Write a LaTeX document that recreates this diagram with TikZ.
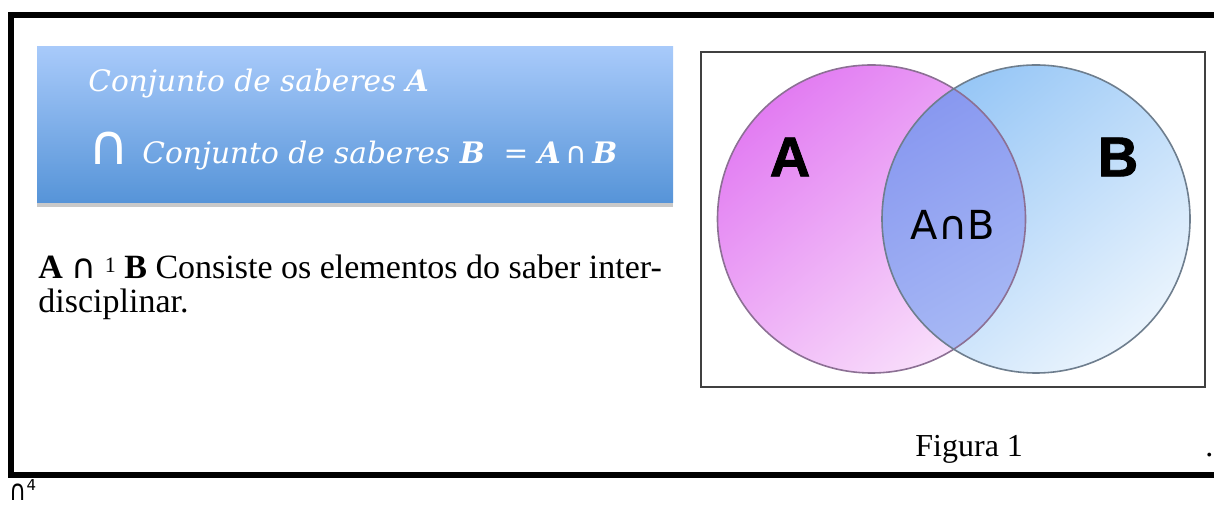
\documentclass[tikz,border=0pt]{standalone}
\usepackage{fontspec}
\setmainfont{Liberation Serif}
\newfontfamily\boxfont{DejaVu Serif}
\newfontfamily\vennfont{Liberation Sans}[BoldFeatures={FakeBold=1.5}]
\newfontfamily\symfont{DejaVu Sans}
\usetikzlibrary{shadows}

\definecolor{boxtop}{RGB}{168,202,250}
\definecolor{boxbottom}{RGB}{86,148,216}
\definecolor{setAdark}{RGB}{226,124,242}
\definecolor{setAlight}{RGB}{249,224,251}
\definecolor{setBdark}{RGB}{150,198,246}
\definecolor{setBlight}{RGB}{234,244,253}
\definecolor{capdark}{RGB}{136,152,240}
\definecolor{caplight}{RGB}{178,196,246}
\definecolor{edgeA}{RGB}{140,112,148}
\definecolor{edgeB}{RGB}{110,126,142}

\begin{document}
\begin{tikzpicture}[x=0.5pt,y=-0.5pt,
    titlebox/.style={draw=none,top color=boxtop,bottom color=boxbottom,
      drop shadow={shadow xshift=0pt,shadow yshift=-2pt,opacity=0.3,fill=black!70},
      minimum width=318pt,minimum height=78pt,inner sep=0pt},
    boxtext/.style={anchor=base west,inner sep=0pt,white,
      font=\boxfont\itshape\fontsize{14.8}{14.8}\selectfont},
    bodytext/.style={anchor=base west,inner sep=0pt,font=\fontsize{17}{17}\selectfont},
    setlabel/.style={inner sep=0pt,font=\vennfont\bfseries\fontsize{28}{28}\selectfont}]
  \useasboundingbox (0,0) rectangle (1214,506);

  % outer frame, open at the right side
  \draw[line width=3pt] (1230,15.5) -- (11,15.5) -- (11,475) -- (1230,475);

  % blue title box with the formula
  \node (title) [titlebox] at (355,125) {};
  \node (lineA) [boxtext] at (88,92) {Conjunto de saberes \textbf{A}};
  \node (bigcap) [anchor=base west,inner sep=0pt,white,
    font=\symfont\fontsize{28}{28}\selectfont] at (88,165) {∩};
  \node (lineB) [boxtext] at (142,164)
    {Conjunto de saberes \textbf{B}\ \ \textup{=}\ \textbf{A}\,{\upshape\symfont ∩}\,\textbf{B}};

  % explanation below the box
  \node (expl1) [bodytext] at (38,279)
    {\textbf{A} {\symfont ∩} \raisebox{3pt}{\fontsize{11}{11}\selectfont 1} \textbf{B} Consiste os elementos do saber inter-};
  \node (expl2) [bodytext] at (38,313) {disciplinar.};

  % Venn diagram
  \draw[line width=1pt,black!75] (701,52) rectangle (1205,387);
  \coordinate (cA) at (871.5,219);
  \coordinate (cB) at (1036,219);
  \fill[top color=setAdark,bottom color=setAlight,shading angle=40] (cA) circle[radius=154];
  \fill[top color=setBdark,bottom color=setBlight,shading angle=40] (cB) circle[radius=154];
  \begin{scope}
    \clip (cA) circle[radius=154];
    \fill[top color=capdark,bottom color=caplight,shading angle=30] (cB) circle[radius=154];
  \end{scope}
  \draw[line width=0.8pt,edgeA] (cA) circle[radius=154];
  \draw[line width=0.8pt,edgeB] (cB) circle[radius=154];
  \node (labA) [setlabel] at (790,157) {A};
  \node (labB) [setlabel] at (1118,157) {B};
  \node (labAB) [inner sep=0pt,font=\symfont\fontsize{20}{20}\selectfont] at (953,225) {A∩B};

  % caption
  \node (caption) [bodytext,font=\fontsize{16}{16}\selectfont] at (915,457) {Figura 1};
  \node (dot) [bodytext,font=\fontsize{16}{16}\selectfont] at (1205,457) {.};

  % footnote mark at the bottom edge
  \node (foot) [anchor=base west,inner sep=0pt,font=\symfont\fontsize{13}{13}\selectfont] at (9,501)
    {\scalebox{0.9}[1.1]{∩}\raisebox{5pt}{\fontsize{7.5}{7.5}\selectfont 4}};
\end{tikzpicture}
\end{document}
